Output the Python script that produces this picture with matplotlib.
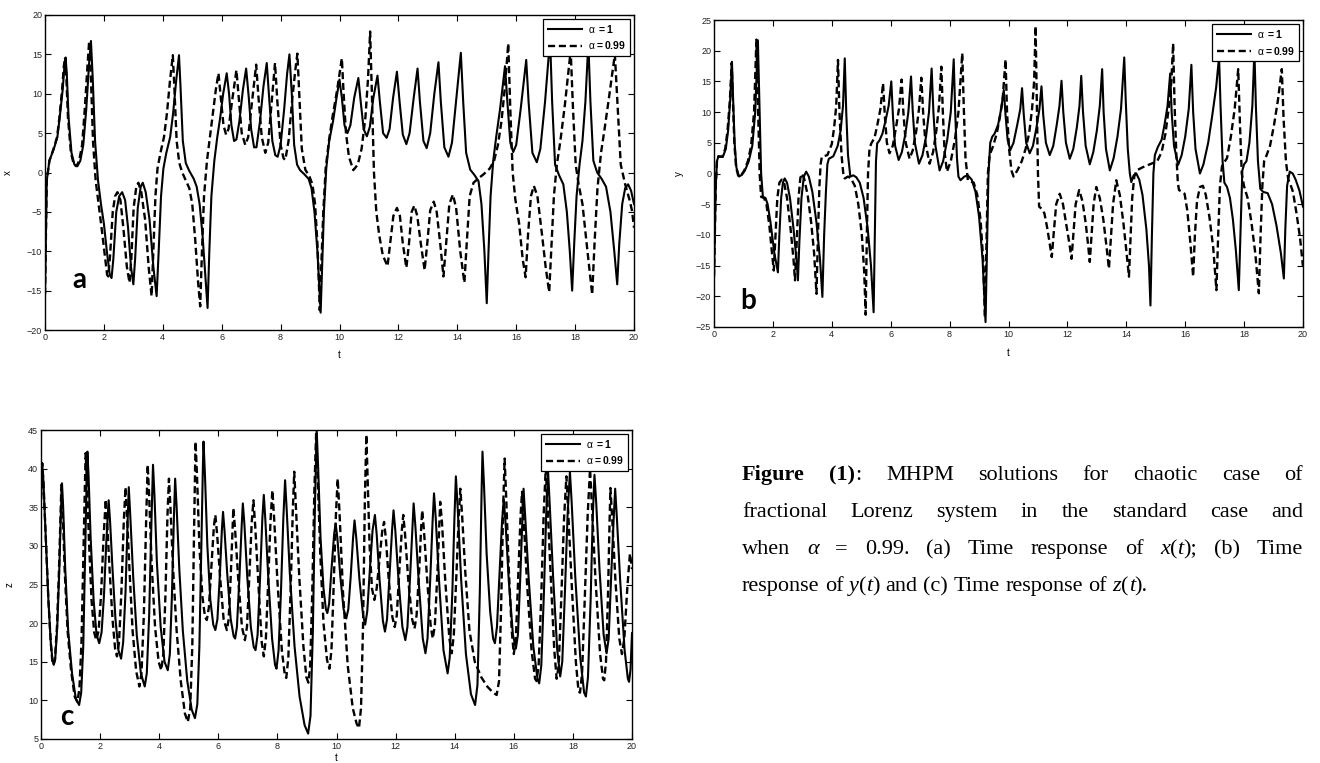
import matplotlib
matplotlib.use('Agg')
import matplotlib.pyplot as plt

W, H = 1320, 763

# (t, x)
A_SOLID = [(0.00, -15.5), (0.03, -8.0), (0.06, -1.0), (0.15, 1.5), (0.30, 3.0), (0.42, 4.5),
           (0.50, 7.0), (0.60, 10.5), (0.66, 13.5), (0.70, 14.6), (0.74, 12.5), (0.80, 7.0),
           (0.90, 2.5), (1.00, 1.0), (1.10, 0.8), (1.20, 1.5), (1.30, 3.5), (1.40, 8.0),
           (1.50, 14.0), (1.56, 16.7), (1.62, 12.0), (1.70, 4.0), (1.80, -1.0), (1.90, -4.0),
           (2.00, -6.5), (2.10, -10.0), (2.20, -13.0), (2.26, -13.4), (2.32, -11.0), (2.42, -5.0),
           (2.52, -3.0), (2.62, -2.5), (2.72, -3.5), (2.82, -7.0), (2.92, -12.0), (3.00, -14.2),
           (3.06, -11.0), (3.15, -4.5), (3.25, -1.8), (3.32, -1.3), (3.42, -2.5), (3.55, -6.0),
           (3.68, -12.0), (3.79, -15.7), (3.86, -10.0), (3.94, -3.0), (4.02, 0.5), (4.12, 2.5),
           (4.25, 4.5), (4.35, 7.5), (4.45, 11.5), (4.55, 14.9), (4.60, 11.0), (4.68, 4.0),
           (4.78, 1.2), (4.90, 0.2), (5.05, -0.8), (5.15, -1.8), (5.25, -4.0), (5.35, -8.0),
           (5.45, -13.5), (5.52, -17.2), (5.58, -10.0), (5.65, -3.0), (5.75, 1.5), (5.85, 4.5),
           (5.95, 7.0), (6.05, 10.0), (6.17, 12.6), (6.25, 10.0), (6.33, 6.0), (6.42, 4.0),
           (6.50, 4.2), (6.60, 6.5), (6.72, 10.5), (6.83, 13.2), (6.92, 9.5), (7.00, 5.5),
           (7.10, 3.2), (7.18, 3.2), (7.30, 6.5), (7.42, 11.0), (7.53, 13.9), (7.62, 9.0),
           (7.72, 4.0), (7.82, 2.2), (7.90, 2.0), (8.00, 3.5), (8.12, 8.0), (8.22, 12.5),
           (8.30, 15.0), (8.38, 10.0), (8.46, 3.5), (8.56, 1.0), (8.66, 0.3), (8.80, -0.2),
           (8.95, -0.8), (9.05, -2.0), (9.15, -5.0), (9.25, -10.0), (9.32, -15.0), (9.36, -17.8),
           (9.41, -12.0), (9.47, -5.0), (9.55, 0.5), (9.65, 4.0), (9.78, 6.5), (9.90, 9.5),
           (10.00, 11.8), (10.08, 9.5), (10.17, 6.0), (10.27, 5.0), (10.37, 6.0), (10.50, 9.5),
           (10.64, 12.0), (10.72, 9.0), (10.82, 5.5), (10.93, 4.6), (11.03, 5.8), (11.15, 9.5),
           (11.29, 12.3), (11.37, 9.0), (11.48, 5.0), (11.60, 4.4), (11.70, 5.5), (11.82, 9.5),
           (11.95, 12.8), (12.04, 9.0), (12.15, 4.8), (12.27, 3.6), (12.38, 5.0), (12.52, 9.5),
           (12.65, 13.2), (12.73, 9.0), (12.85, 4.0), (12.96, 3.1), (13.08, 5.0), (13.22, 10.0),
           (13.36, 14.0), (13.44, 9.0), (13.56, 3.2), (13.70, 2.0), (13.82, 3.8), (13.97, 9.5),
           (14.12, 15.2), (14.20, 9.0), (14.30, 2.5), (14.44, 0.35), (14.58, -0.3), (14.72, -1.1),
           (14.82, -4.0), (14.92, -10.0), (15.00, -16.6), (15.06, -10.0), (15.13, -3.0), (15.22, 1.5),
           (15.32, 4.5), (15.45, 8.0), (15.62, 13.5), (15.70, 9.0), (15.80, 3.8), (15.90, 2.6),
           (16.00, 3.5), (16.15, 8.0), (16.34, 14.3), (16.42, 9.0), (16.55, 2.5), (16.70, 1.3),
           (16.82, 3.0), (16.98, 9.0), (17.15, 17.0), (17.22, 9.0), (17.32, 1.0), (17.45, -0.3),
           (17.60, -1.5), (17.72, -5.0), (17.82, -10.0), (17.90, -15.0), (17.97, -9.0), (18.05, -3.0),
           (18.15, 1.0), (18.25, 4.0), (18.35, 9.0), (18.45, 16.5), (18.52, 9.0), (18.62, 1.5),
           (18.75, 0.0), (18.90, -0.8), (19.05, -1.8), (19.20, -5.0), (19.33, -10.0), (19.43, -14.2),
           (19.50, -9.0), (19.60, -4.0), (19.70, -2.0), (19.80, -1.5), (19.90, -2.3), (20.00, -4.0)]
A_DASH = [(0.00, -15.5), (0.03, -8.0), (0.06, -1.0), (0.15, 1.5), (0.29, 3.0), (0.41, 4.5),
          (0.49, 7.0), (0.58, 10.5), (0.64, 13.5), (0.68, 14.6), (0.72, 12.5), (0.78, 7.0),
          (0.88, 2.5), (0.98, 1.0), (1.07, 0.8), (1.16, 1.5), (1.26, 3.5), (1.35, 8.0),
          (1.45, 14.0), (1.50, 16.7), (1.56, 12.0), (1.63, 4.0), (1.72, -1.0), (1.82, -4.0),
          (1.92, -7.0), (2.03, -10.5), (2.11, -13.0), (2.15, -13.2), (2.21, -10.5), (2.30, -5.0),
          (2.38, -3.0), (2.46, -2.5), (2.56, -3.5), (2.66, -7.0), (2.78, -12.0), (2.87, -14.0),
          (2.93, -11.0), (3.01, -4.5), (3.10, -1.8), (3.17, -1.3), (3.27, -2.5), (3.40, -6.0),
          (3.52, -12.0), (3.62, -15.7), (3.68, -10.0), (3.75, -3.0), (3.82, 0.5), (3.92, 2.5),
          (4.04, 4.5), (4.14, 7.5), (4.24, 11.5), (4.34, 14.9), (4.39, 11.0), (4.47, 4.0),
          (4.56, 1.2), (4.66, 0.0), (4.78, -1.0), (4.90, -2.0), (5.00, -4.0), (5.10, -8.5),
          (5.20, -14.0), (5.27, -17.0), (5.33, -10.0), (5.40, -3.0), (5.50, 1.5), (5.60, 4.5),
          (5.70, 7.5), (5.80, 10.5), (5.89, 12.6), (5.97, 9.5), (6.06, 6.0), (6.15, 4.8),
          (6.23, 5.5), (6.35, 9.0), (6.50, 13.0), (6.58, 9.5), (6.68, 5.0), (6.80, 3.5),
          (6.90, 4.5), (7.03, 9.0), (7.17, 13.7), (7.25, 9.5), (7.36, 4.5), (7.48, 2.5),
          (7.58, 3.8), (7.70, 9.0), (7.81, 13.9), (7.89, 9.0), (8.00, 3.5), (8.10, 1.8),
          (8.16, 1.6), (8.27, 4.0), (8.40, 9.5), (8.50, 13.0), (8.57, 15.1), (8.64, 9.5),
          (8.72, 3.0), (8.84, 0.35), (8.98, -0.5), (9.08, -1.5), (9.17, -4.0), (9.25, -9.0),
          (9.30, -14.0), (9.33, -17.5), (9.38, -12.0), (9.45, -5.0), (9.53, 0.5), (9.64, 4.0),
          (9.76, 7.0), (9.92, 10.5), (10.08, 14.5), (10.14, 10.0), (10.22, 5.0), (10.32, 2.0),
          (10.47, 0.3), (10.62, 1.0), (10.75, 3.0), (10.88, 7.0), (10.97, 12.0), (11.04, 17.9),
          (11.10, 10.0), (11.17, 0.0), (11.25, -5.0), (11.35, -8.0), (11.47, -10.5), (11.63, -11.9),
          (11.72, -9.0), (11.83, -5.5), (11.95, -4.5), (12.05, -5.5), (12.15, -9.0), (12.27, -12.1),
          (12.36, -9.0), (12.45, -5.0), (12.54, -4.2), (12.64, -5.5), (12.76, -9.0), (12.89, -12.4),
          (12.98, -9.0), (13.08, -4.8), (13.20, -3.7), (13.30, -5.0), (13.42, -9.0), (13.53, -13.2),
          (13.62, -9.0), (13.73, -4.0), (13.85, -2.8), (13.96, -4.5), (14.10, -10.0), (14.24, -14.0),
          (14.32, -9.0), (14.42, -3.0), (14.55, -1.3), (14.70, -0.8), (14.90, -0.2), (15.10, 0.5),
          (15.25, 1.5), (15.38, 3.5), (15.50, 6.5), (15.62, 11.0), (15.73, 16.4), (15.80, 8.0),
          (15.88, 0.0), (15.97, -3.4), (16.10, -6.5), (16.22, -11.0), (16.32, -13.3), (16.40, -8.0),
          (16.50, -3.0), (16.60, -1.7), (16.72, -3.0), (16.88, -8.0), (17.00, -12.0), (17.12, -15.2),
          (17.20, -9.0), (17.28, -3.0), (17.38, 1.0), (17.50, 4.0), (17.65, 8.5), (17.85, 15.5),
          (17.93, 8.0), (18.02, 1.0), (18.12, -1.5), (18.25, -4.0), (18.42, -10.0), (18.58, -15.5),
          (18.66, -9.0), (18.76, -2.0), (18.88, 2.5), (19.00, 5.5), (19.15, 9.5), (19.35, 15.0),
          (19.45, 8.0), (19.55, 1.0), (19.70, -1.5), (19.85, -3.5), (19.93, -4.8), (20.00, -7.0)]

# (t, y)
B_SOLID = [(0.00, -16.8), (0.03, -9.0), (0.06, -2.0), (0.10, 2.0), (0.15, 2.8), (0.30, 2.7),
           (0.40, 4.0), (0.48, 7.0), (0.55, 12.0), (0.61, 18.2), (0.65, 12.0), (0.70, 5.0),
           (0.76, 1.0), (0.85, -0.5), (0.95, -0.2), (1.05, 0.5), (1.18, 2.0), (1.30, 4.5),
           (1.40, 10.0), (1.49, 21.7), (1.54, 12.0), (1.60, 0.0), (1.66, -3.8), (1.75, -4.0),
           (1.82, -5.0), (1.92, -8.0), (2.05, -13.0), (2.17, -16.1), (2.22, -10.0), (2.28, -4.0),
           (2.34, -1.5), (2.40, -0.8), (2.48, -1.5), (2.58, -4.0), (2.70, -9.0), (2.80, -14.0),
           (2.85, -17.4), (2.90, -11.0), (2.97, -4.0), (3.05, -0.5), (3.13, 0.3), (3.22, -0.5),
           (3.34, -3.0), (3.48, -8.0), (3.60, -14.0), (3.68, -20.1), (3.74, -10.0), (3.80, -3.0),
           (3.85, 1.5), (3.90, 2.4), (4.05, 2.8), (4.20, 4.5), (4.30, 7.0), (4.38, 11.0),
           (4.44, 18.75), (4.49, 10.0), (4.55, 3.0), (4.63, -0.5), (4.73, -0.3), (4.83, -0.6),
           (4.95, -1.5), (5.08, -4.0), (5.22, -9.0), (5.33, -15.0), (5.42, -22.6), (5.46, -10.0),
           (5.50, 2.0), (5.54, 4.9), (5.62, 5.4), (5.72, 6.5), (5.82, 8.5), (5.93, 11.0),
           (6.02, 15.0), (6.08, 9.0), (6.15, 4.5), (6.27, 2.2), (6.38, 3.5), (6.50, 6.5),
           (6.60, 10.0), (6.69, 15.8), (6.75, 10.0), (6.82, 5.0), (6.96, 1.6), (7.08, 3.0),
           (7.20, 6.0), (7.30, 10.0), (7.39, 17.1), (7.45, 10.0), (7.52, 4.5), (7.66, 0.5),
           (7.78, 2.0), (7.92, 5.5), (8.04, 10.0), (8.14, 18.6), (8.19, 10.0), (8.25, 2.5),
           (8.30, -0.5), (8.37, -1.1), (8.50, -0.5), (8.62, -0.3), (8.75, -1.0), (8.88, -3.0),
           (9.00, -7.0), (9.12, -14.0), (9.22, -24.2), (9.27, -12.0), (9.32, 0.0), (9.38, 5.0),
           (9.45, 6.0), (9.53, 6.5), (9.65, 8.0), (9.75, 10.5), (9.84, 13.6), (9.90, 9.5),
           (9.97, 5.5), (10.06, 3.8), (10.17, 5.0), (10.30, 8.0), (10.40, 10.5), (10.46, 13.9),
           (10.52, 9.5), (10.60, 5.0), (10.72, 3.3), (10.83, 4.5), (10.95, 7.5), (11.05, 10.5),
           (11.12, 14.2), (11.18, 9.5), (11.27, 5.0), (11.40, 3.0), (11.52, 4.5), (11.64, 8.0),
           (11.73, 11.0), (11.80, 15.1), (11.86, 10.0), (11.95, 5.0), (12.08, 2.4), (12.20, 4.0),
           (12.32, 7.5), (12.41, 11.0), (12.47, 15.9), (12.53, 10.0), (12.62, 4.5), (12.76, 1.5),
           (12.88, 3.5), (13.00, 7.0), (13.10, 11.0), (13.18, 17.0), (13.23, 10.0), (13.31, 4.0),
           (13.44, 0.5), (13.57, 2.5), (13.70, 6.0), (13.82, 10.5), (13.93, 18.9), (13.98, 12.0),
           (14.05, 4.0), (14.12, 0.0), (14.17, -1.4), (14.25, -0.3), (14.34, 0.0), (14.44, -1.0),
           (14.55, -3.5), (14.68, -9.0), (14.77, -15.0), (14.82, -21.5), (14.87, -10.0), (14.92, 0.0),
           (14.97, 3.0), (15.07, 4.3), (15.20, 5.5), (15.30, 8.0), (15.40, 11.0), (15.49, 16.3),
           (15.54, 10.0), (15.62, 4.5), (15.76, 1.4), (15.88, 3.0), (16.00, 6.0), (16.12, 10.5),
           (16.21, 17.7), (16.27, 10.0), (16.35, 4.0), (16.50, 0.0), (16.62, 1.5), (16.78, 5.0),
           (16.92, 9.5), (17.05, 14.0), (17.15, 19.0), (17.20, 11.0), (17.27, 2.0), (17.33, -1.5),
           (17.42, -2.2), (17.52, -4.0), (17.62, -7.5), (17.72, -12.5), (17.82, -19.0), (17.88, -9.0),
           (17.94, 0.5), (18.00, 1.5), (18.08, 2.0), (18.18, 5.0), (18.28, 11.0), (18.35, 20.0),
           (18.40, 11.0), (18.47, 2.0), (18.55, -2.5), (18.65, -3.0), (18.80, -3.2), (18.95, -5.0),
           (19.10, -8.5), (19.25, -13.0), (19.35, -17.1), (19.40, -9.0), (19.46, -2.0), (19.55, 0.3),
           (19.65, 0.0), (19.75, -1.0), (19.88, -2.8), (20.00, -5.4)]
B_DASH = [(0.00, -16.8), (0.03, -9.0), (0.06, -2.0), (0.10, 2.0), (0.15, 2.8), (0.28, 2.7),
          (0.38, 4.0), (0.46, 7.0), (0.54, 12.0), (0.60, 18.0), (0.64, 12.0), (0.69, 5.0),
          (0.75, 1.0), (0.83, -0.5), (0.93, -0.2), (1.03, 0.5), (1.15, 2.0), (1.26, 4.5),
          (1.36, 10.0), (1.44, 21.8), (1.49, 12.0), (1.55, 0.0), (1.60, -3.8), (1.70, -4.0),
          (1.78, -5.0), (1.88, -8.5), (1.97, -13.0), (2.03, -15.8), (2.09, -10.0), (2.15, -4.0),
          (2.22, -1.5), (2.30, -1.0), (2.38, -1.5), (2.48, -4.0), (2.60, -9.0), (2.70, -14.0),
          (2.75, -17.4), (2.81, -11.0), (2.87, -4.0), (2.93, -0.8), (2.98, 0.0), (3.06, -0.8),
          (3.18, -3.5), (3.30, -8.0), (3.40, -13.0), (3.48, -19.6), (3.53, -10.0), (3.58, -2.0),
          (3.62, 1.5), (3.66, 2.7), (3.85, 3.0), (4.00, 4.8), (4.08, 7.5), (4.15, 11.0),
          (4.21, 18.5), (4.26, 10.0), (4.33, 3.0), (4.40, -0.5), (4.44, -0.8), (4.55, -0.5),
          (4.65, -0.8), (4.78, -2.0), (4.90, -5.0), (5.02, -10.0), (5.10, -16.0), (5.15, -23.0),
          (5.19, -10.0), (5.23, 0.0), (5.28, 4.0), (5.34, 4.9), (5.45, 5.8), (5.55, 8.0),
          (5.65, 10.5), (5.74, 14.7), (5.80, 9.5), (5.87, 5.0), (5.96, 3.3), (6.07, 4.5),
          (6.18, 7.5), (6.28, 10.5), (6.37, 15.3), (6.43, 10.0), (6.51, 5.0), (6.64, 2.4),
          (6.75, 3.8), (6.87, 7.0), (6.96, 10.5), (7.04, 15.6), (7.10, 10.0), (7.18, 5.0),
          (7.32, 1.6), (7.44, 3.5), (7.55, 7.0), (7.64, 11.0), (7.72, 17.4), (7.77, 10.0),
          (7.83, 3.5), (7.91, 0.3), (8.04, 2.0), (8.18, 5.5), (8.30, 10.0), (8.43, 19.6),
          (8.48, 11.0), (8.54, 2.5), (8.62, -1.1), (8.72, -1.3), (8.82, -1.5), (8.94, -3.5),
          (9.05, -7.5), (9.14, -14.0), (9.20, -23.5), (9.25, -12.0), (9.30, 0.0), (9.36, 3.0),
          (9.48, 4.5), (9.60, 6.5), (9.70, 9.0), (9.80, 12.0), (9.90, 18.6), (9.95, 10.0),
          (10.02, 4.0), (10.10, 0.5), (10.17, -0.5), (10.30, 0.5), (10.45, 2.0), (10.58, 4.0),
          (10.70, 6.5), (10.80, 10.5), (10.87, 15.0), (10.92, 24.0), (10.96, 12.0), (11.00, 0.0),
          (11.04, -5.4), (11.14, -5.8), (11.22, -6.5), (11.32, -9.0), (11.40, -11.5), (11.47, -13.6),
          (11.53, -10.0), (11.62, -5.0), (11.74, -3.3), (11.85, -5.0), (11.97, -8.5), (12.07, -11.5),
          (12.14, -13.9), (12.20, -10.0), (12.28, -5.0), (12.40, -2.7), (12.51, -4.5), (12.62, -8.0),
          (12.70, -11.5), (12.76, -14.4), (12.82, -10.0), (12.89, -5.0), (12.98, -2.2), (13.10, -4.0),
          (13.22, -7.5), (13.33, -12.0), (13.41, -15.5), (13.47, -11.0), (13.55, -5.0), (13.66, -1.1),
          (13.78, -3.5), (13.90, -8.0), (14.00, -12.5), (14.09, -16.8), (14.14, -11.0), (14.20, -4.0),
          (14.27, -0.5), (14.35, 0.5), (14.55, 1.0), (14.80, 1.5), (15.05, 2.0), (15.20, 3.5),
          (15.33, 6.5), (15.45, 11.0), (15.53, 15.0), (15.59, 21.2), (15.64, 11.0), (15.70, 3.0),
          (15.75, -1.5), (15.79, -2.7), (15.90, -3.0), (15.98, -3.3), (16.07, -6.0), (16.17, -11.0),
          (16.27, -16.8), (16.33, -10.0), (16.40, -4.5), (16.50, -2.2), (16.60, -2.0), (16.70, -3.5),
          (16.82, -7.0), (16.95, -12.0), (17.06, -19.0), (17.12, -10.0), (17.18, -2.0), (17.25, 1.2),
          (17.32, 1.8), (17.42, 2.5), (17.55, 6.0), (17.68, 10.5), (17.80, 17.0), (17.86, 8.0),
          (17.92, 0.0), (18.00, -2.1), (18.12, -4.0), (18.25, -8.0), (18.38, -13.0), (18.50, -19.5),
          (18.56, -10.0), (18.62, -2.0), (18.68, 2.0), (18.75, 2.8), (18.88, 4.5), (19.02, 8.0),
          (19.15, 12.0), (19.28, 17.0), (19.34, 9.0), (19.42, 2.0), (19.50, -1.0), (19.56, -1.6),
          (19.66, -3.0), (19.78, -6.5), (19.90, -10.5), (20.00, -15.2)]

# (t, z)
C_SOLID = [(0.00, 36.0), (0.02, 39.5), (0.04, 40.7), (0.08, 38.5), (0.15, 32.0), (0.25, 23.0),
           (0.33, 17.5), (0.39, 15.2), (0.43, 14.6), (0.48, 15.3), (0.55, 19.5), (0.62, 27.0),
           (0.67, 34.0), (0.71, 38.1), (0.75, 35.0), (0.82, 27.0), (0.92, 19.0), (1.05, 13.5),
           (1.18, 10.2), (1.29, 9.4), (1.36, 11.0), (1.43, 17.0), (1.50, 30.0), (1.55, 39.5),
           (1.57, 42.2), (1.61, 39.0), (1.68, 31.0), (1.78, 23.0), (1.88, 18.5), (1.97, 17.4),
           (2.05, 18.8), (2.13, 23.5), (2.21, 30.5), (2.29, 35.9), (2.34, 33.0), (2.42, 27.0),
           (2.52, 20.5), (2.62, 16.5), (2.71, 15.4), (2.78, 17.5), (2.86, 24.0), (2.93, 33.0),
           (2.97, 37.6), (3.02, 34.0), (3.12, 26.0), (3.24, 18.5), (3.38, 13.5), (3.51, 11.8),
           (3.58, 13.5), (3.66, 21.0), (3.74, 33.5), (3.79, 40.5), (3.84, 36.5), (3.92, 28.0),
           (4.05, 19.5), (4.18, 15.0), (4.29, 13.9), (4.36, 16.0), (4.43, 23.5), (4.50, 34.0),
           (4.54, 38.7), (4.59, 35.0), (4.68, 27.0), (4.80, 19.0), (4.95, 12.5), (5.10, 8.8),
           (5.21, 7.7), (5.29, 9.5), (5.36, 17.0), (5.43, 31.0), (5.48, 40.5), (5.50, 43.5),
           (5.55, 39.0), (5.63, 30.0), (5.73, 23.0), (5.83, 19.8), (5.90, 19.1), (5.97, 20.5),
           (6.05, 26.0), (6.12, 32.0), (6.16, 34.4), (6.21, 32.0), (6.30, 26.5), (6.42, 20.5),
           (6.52, 18.3), (6.57, 18.0), (6.63, 19.5), (6.71, 25.5), (6.79, 32.5), (6.83, 35.5),
           (6.88, 33.0), (6.98, 26.0), (7.10, 19.5), (7.20, 16.9), (7.26, 16.5), (7.33, 18.5),
           (7.41, 25.5), (7.49, 33.5), (7.54, 36.6), (7.59, 33.5), (7.69, 26.0), (7.82, 18.0),
           (7.92, 14.6), (7.97, 14.1), (8.04, 16.5), (8.12, 24.0), (8.20, 33.5), (8.26, 38.5),
           (8.31, 35.0), (8.42, 26.5), (8.58, 17.0), (8.75, 10.5), (8.92, 6.8), (9.04, 5.7),
           (9.12, 8.0), (9.20, 19.0), (9.27, 35.0), (9.33, 45.0), (9.38, 40.0), (9.46, 31.0),
           (9.56, 24.5), (9.64, 21.8), (9.69, 21.3), (9.75, 22.5), (9.84, 27.5), (9.92, 31.5),
           (9.97, 32.9), (10.03, 31.0), (10.13, 26.0), (10.24, 21.8), (10.33, 20.6), (10.40, 21.8),
           (10.48, 26.0), (10.56, 31.0), (10.61, 33.3), (10.67, 31.0), (10.78, 25.5), (10.90, 21.0),
           (10.97, 19.8), (11.04, 21.5), (11.13, 27.0), (11.22, 32.0), (11.30, 34.0), (11.36, 31.5),
           (11.46, 25.5), (11.57, 20.3), (11.64, 18.9), (11.71, 20.5), (11.80, 26.5), (11.88, 32.0),
           (11.93, 34.6), (11.99, 32.0), (12.10, 25.5), (12.23, 19.5), (12.33, 17.8), (12.40, 19.5),
           (12.49, 26.0), (12.57, 32.5), (12.61, 35.5), (12.67, 32.5), (12.78, 25.5), (12.92, 18.0),
           (13.01, 16.1), (13.08, 18.0), (13.17, 25.5), (13.25, 33.0), (13.30, 36.8), (13.36, 33.5),
           (13.47, 25.5), (13.62, 16.5), (13.76, 13.5), (13.83, 15.5), (13.92, 24.0), (13.99, 33.5),
           (14.04, 39.0), (14.10, 35.0), (14.22, 25.5), (14.38, 16.0), (14.55, 10.8), (14.69, 9.4),
           (14.77, 12.0), (14.85, 24.0), (14.91, 37.0), (14.94, 42.2), (14.99, 38.0), (15.08, 29.0),
           (15.20, 21.5), (15.30, 18.0), (15.36, 17.4), (15.43, 19.5), (15.52, 26.5), (15.60, 33.0),
           (15.66, 36.0), (15.72, 33.0), (15.83, 25.5), (15.97, 18.5), (16.07, 16.7), (16.14, 18.5),
           (16.22, 26.0), (16.29, 33.5), (16.33, 37.4), (16.39, 33.5), (16.50, 26.0), (16.66, 17.0),
           (16.80, 12.8), (16.86, 12.2), (16.93, 14.5), (17.02, 24.0), (17.10, 34.5), (17.16, 39.6),
           (17.22, 35.0), (17.33, 26.0), (17.47, 16.5), (17.57, 13.1), (17.64, 15.0), (17.73, 24.0),
           (17.82, 34.0), (17.90, 39.6), (17.96, 35.5), (18.08, 26.0), (18.25, 15.5), (18.38, 11.0),
           (18.44, 10.5), (18.51, 13.0), (18.60, 23.0), (18.67, 33.5), (18.73, 39.2), (18.79, 35.5),
           (18.90, 27.0), (19.04, 18.5), (19.14, 16.1), (19.21, 18.0), (19.30, 26.5), (19.38, 33.5),
           (19.43, 37.4), (19.49, 33.5), (19.60, 25.5), (19.75, 16.5), (19.86, 12.8), (19.90, 12.4),
           (19.95, 14.0), (20.00, 18.7)]
C_DASH = [(0.00, 36.0), (0.02, 39.5), (0.04, 40.7), (0.08, 38.5), (0.15, 32.0), (0.25, 23.0),
          (0.33, 17.5), (0.38, 15.2), (0.42, 14.6), (0.47, 15.3), (0.54, 19.5), (0.61, 27.0),
          (0.66, 34.0), (0.69, 37.9), (0.73, 35.0), (0.80, 27.0), (0.90, 19.0), (1.02, 13.8),
          (1.14, 10.5), (1.23, 9.8), (1.30, 11.5), (1.37, 17.5), (1.44, 30.0), (1.49, 39.5),
          (1.51, 42.0), (1.55, 39.0), (1.62, 31.0), (1.71, 23.0), (1.80, 18.8), (1.87, 17.8),
          (1.95, 19.0), (2.03, 23.5), (2.11, 30.5), (2.19, 36.0), (2.24, 33.0), (2.32, 27.0),
          (2.42, 20.5), (2.51, 16.6), (2.57, 15.7), (2.64, 17.5), (2.72, 24.0), (2.80, 33.0),
          (2.86, 37.6), (2.91, 34.0), (3.00, 26.5), (3.10, 19.0), (3.22, 13.8), (3.33, 11.8),
          (3.40, 13.5), (3.48, 21.0), (3.56, 33.5), (3.61, 40.5), (3.66, 36.5), (3.74, 28.0),
          (3.86, 19.5), (3.98, 15.0), (4.07, 13.9), (4.14, 16.0), (4.21, 23.5), (4.28, 34.0),
          (4.33, 38.7), (4.38, 35.0), (4.47, 27.0), (4.59, 19.0), (4.73, 12.5), (4.87, 8.3),
          (4.97, 7.2), (5.05, 9.0), (5.12, 17.0), (5.18, 32.0), (5.22, 41.0), (5.23, 43.5),
          (5.28, 39.0), (5.36, 30.0), (5.46, 23.5), (5.55, 20.8), (5.61, 20.4), (5.68, 22.0),
          (5.76, 27.0), (5.85, 32.5), (5.90, 34.0), (5.96, 31.5), (6.06, 26.0), (6.18, 20.5),
          (6.29, 19.1), (6.35, 20.5), (6.42, 26.0), (6.48, 32.0), (6.51, 34.9), (6.57, 32.0),
          (6.67, 26.0), (6.80, 19.5), (6.90, 17.8), (6.97, 19.5), (7.05, 26.0), (7.13, 33.0),
          (7.19, 35.9), (7.25, 32.5), (7.35, 25.5), (7.47, 17.5), (7.54, 15.7), (7.61, 18.0),
          (7.69, 25.5), (7.77, 33.5), (7.83, 37.2), (7.89, 33.5), (8.00, 25.5), (8.15, 16.5),
          (8.25, 13.3), (8.30, 12.9), (8.37, 15.5), (8.45, 24.5), (8.52, 34.5), (8.57, 39.6),
          (8.62, 35.5), (8.74, 26.0), (8.88, 17.0), (8.98, 13.0), (9.05, 12.3), (9.11, 14.5),
          (9.18, 24.0), (9.25, 37.0), (9.31, 44.5), (9.36, 39.5), (9.45, 29.0), (9.56, 20.0),
          (9.68, 15.2), (9.76, 14.1), (9.83, 16.5), (9.91, 25.5), (9.98, 34.0), (10.04, 38.7),
          (10.10, 34.5), (10.22, 24.0), (10.38, 14.5), (10.55, 9.0), (10.68, 7.0), (10.76, 6.4),
          (10.83, 9.0), (10.90, 20.0), (10.96, 36.0), (11.01, 44.4), (11.05, 39.0), (11.12, 30.0),
          (11.20, 24.5), (11.28, 23.0), (11.36, 24.5), (11.45, 28.0), (11.55, 32.0), (11.61, 33.1),
          (11.67, 31.0), (11.77, 25.5), (11.89, 20.8), (11.97, 19.5), (12.04, 21.0), (12.13, 27.0),
          (12.21, 32.0), (12.26, 34.0), (12.32, 31.5), (12.43, 25.5), (12.56, 20.5), (12.64, 19.3),
          (12.71, 21.0), (12.80, 27.0), (12.86, 32.0), (12.90, 34.6), (12.96, 32.0), (13.07, 25.5),
          (13.19, 19.5), (13.26, 18.0), (13.33, 19.8), (13.42, 27.0), (13.48, 33.0), (13.51, 35.7),
          (13.57, 33.0), (13.68, 25.5), (13.82, 18.0), (13.90, 16.1), (13.97, 18.5), (14.06, 26.5),
          (14.14, 34.0), (14.19, 37.4), (14.25, 34.0), (14.36, 26.5), (14.50, 19.0), (14.68, 15.0),
          (14.90, 13.0), (15.10, 11.8), (15.30, 11.0), (15.42, 10.7), (15.50, 12.5), (15.57, 22.0),
          (15.64, 35.0), (15.69, 41.3), (15.74, 36.5), (15.83, 27.0), (15.93, 19.0), (16.00, 16.0),
          (16.07, 18.0), (16.15, 26.0), (16.23, 34.0), (16.28, 37.0), (16.34, 33.0), (16.45, 25.0),
          (16.60, 16.5), (16.72, 12.8), (16.77, 12.5), (16.84, 14.5), (16.93, 23.5), (17.01, 34.0),
          (17.08, 40.0), (17.14, 35.5), (17.25, 26.0), (17.37, 16.5), (17.45, 12.8), (17.52, 14.5),
          (17.61, 23.5), (17.70, 33.5), (17.78, 39.0), (17.84, 34.5), (17.96, 25.0), (18.10, 15.0),
          (18.19, 11.2), (18.24, 11.0), (18.31, 13.5), (18.40, 23.0), (18.50, 34.0), (18.58, 40.0),
          (18.64, 35.5), (18.76, 26.0), (18.92, 16.0), (19.02, 12.8), (19.06, 12.6), (19.12, 15.0),
          (19.19, 24.0), (19.24, 33.0), (19.27, 37.5), (19.33, 33.5), (19.44, 25.5), (19.57, 18.0),
          (19.66, 16.0), (19.74, 18.0), (19.84, 24.5), (19.93, 29.0), (20.00, 27.0)]

PANELS = [
    # solid, dashed, ylabel, yticks, box (left, top, right, bottom) px, letter, letter pos, label coords
    (A_SOLID, A_DASH, 'x', range(-20, 21, 5), (45, 15, 634, 330), 'a', (0.058, 0.16), (-0.054, -0.065)),
    (B_SOLID, B_DASH, 'y', range(-25, 26, 5), (714, 20, 1303, 327), 'b', (0.058, 0.085), (-0.051, -0.068)),
    (C_SOLID, C_DASH, 'z', range(5, 46, 5), (41, 430, 632, 739), 'c', (0.044, 0.07), (-0.044, -0.045)),
]

plt.rcParams['font.family'] = ['Liberation Sans', 'DejaVu Sans']
plt.rcParams['mathtext.fontset'] = 'custom'
plt.rcParams['mathtext.bf'] = 'Liberation Sans:bold'
plt.rcParams['mathtext.rm'] = 'Liberation Sans'

fig = plt.figure(figsize=(W / 100, H / 100), dpi=100)

for solid, dash, ylab, yt, box, letter, lpos, lab in PANELS:
    l, t, r, b = box
    ax = fig.add_axes([l / W, 1 - b / H, (r - l) / W, (b - t) / H])
    ts, vs = zip(*solid)
    td, vd = zip(*dash)
    ax.plot(ts, vs, color='black', lw=1.5, label=r'α $\mathbf{=1}$')
    ax.plot(td, vd, color='black', lw=1.7, ls=(0, (3, 1.6)), label=r'α$\mathbf{=0.99}$')
    ax.set_xlim(0, 20)
    ax.set_ylim(yt[0], yt[-1])
    ax.set_xticks(range(0, 21, 2))
    ax.set_yticks(list(yt))
    ax.tick_params(direction='in', top=True, right=True, length=4, width=0.8,
                   labelsize=6.5, pad=2, labelcolor='#222222')
    for s in ax.spines.values():
        s.set_linewidth(1.0)
    ax.set_xlabel('t', fontsize=7)
    ax.set_ylabel(ylab, fontsize=7)
    ax.yaxis.set_label_coords(lab[0], 0.5)
    ax.xaxis.set_label_coords(0.5, lab[1])
    leg = ax.legend(loc='upper right', fancybox=False, edgecolor='black', framealpha=1,
                    borderaxespad=0.35, handlelength=3.3, handletextpad=0.6,
                    labelspacing=0.45, borderpad=0.4, fontsize=7.5)
    leg.get_frame().set_linewidth(0.9)
    ax.text(lpos[0], lpos[1], letter, transform=ax.transAxes, fontsize=20,
            fontweight='bold', family='Lato', ha='center', va='center')

# caption, justified line by line
CAP_LINES = [
    [[('Figure', 'b')], [('(1)', 'b'), (':', 'n')], [('MHPM', 'n')], [('solutions', 'n')],
     [('for', 'n')], [('chaotic', 'n')], [('case', 'n')], [('of', 'n')]],
    [[('fractional', 'n')], [('Lorenz', 'n')], [('system', 'n')], [('in', 'n')], [('the', 'n')],
     [('standard', 'n')], [('case', 'n')], [('and', 'n')]],
    [[('when', 'n')], [('α', 'i')], [('=', 'n')], [('0.99.', 'n')], [('(a)', 'n')], [('Time', 'n')],
     [('response', 'n')], [('of', 'n')], [('x', 'i'), ('(', 'n'), ('t', 'i'), (');', 'n')],
     [('(b)', 'n')], [('Time', 'n')]],
    [[('response', 'n')], [('of', 'n')], [('y', 'i'), ('(', 'n'), ('t', 'i'), (')', 'n')],
     [('and', 'n')], [('(c)', 'n')], [('Time', 'n')], [('response', 'n')], [('of', 'n')],
     [('z', 'i'), ('(', 'n'), ('t', 'i'), (').', 'n')]],
]
CAP_X0, CAP_X1 = 742, 1303
CAP_Y = [480, 517, 554, 591]
CAP_FS = 16

renderer = fig.canvas.get_renderer()
for li, line in enumerate(CAP_LINES):
    words = []
    for word in line:
        parts = []
        for txt, st in word:
            tx = fig.text(0, 1 - CAP_Y[li] / H, txt, fontsize=CAP_FS, family='Liberation Serif',
                          fontweight='bold' if st == 'b' else 'normal',
                          fontstyle='italic' if st == 'i' else 'normal', va='baseline')
            parts.append((tx, tx.get_window_extent(renderer).width))
        words.append(parts)
    widths = [sum(w for _, w in parts) for parts in words]
    if li < len(CAP_LINES) - 1:
        gap = (CAP_X1 - CAP_X0 - sum(widths)) / (len(words) - 1)
    else:
        gap = CAP_FS * 1.39 * 0.25
    x = CAP_X0
    for parts, wd in zip(words, widths):
        xx = x
        for tx, w in parts:
            tx.set_x(xx / W)
            xx += w
        x += wd + gap

fig.savefig('out.png', dpi=100)
